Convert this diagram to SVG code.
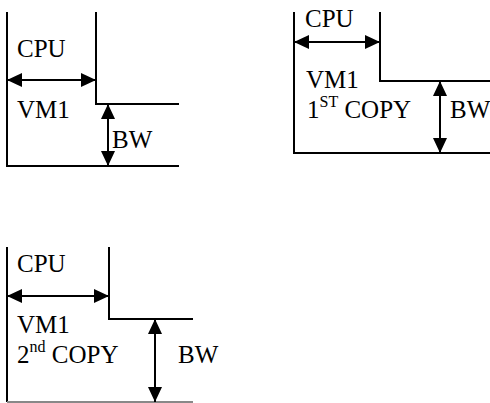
<svg xmlns="http://www.w3.org/2000/svg" width="490" height="403" viewBox="0 0 490 403">
<style>
.ln{fill:none;stroke:#000;stroke-width:2}
.ln2{fill:none;stroke:#888;stroke-width:2}
.ar{fill:none;stroke:#000;stroke-width:2;marker-start:url(#ah);marker-end:url(#ah)}
.t{font-family:'Liberation Serif','Times New Roman',serif;font-size:25px;fill:#000}
.sup{font-size:16px}
</style>
<defs>
<marker id="ah" viewBox="0 0 15 14" refX="15" refY="7" markerWidth="15" markerHeight="14" markerUnits="userSpaceOnUse" orient="auto-start-reverse">
<path d="M0,0 L15,7 L0,14 z" fill="#000"/>
</marker>
</defs>
<g id="node-diagram1">
<path class="ln" d="M7,12 V166 H179"/>
<path class="ln" d="M96,12 V104 H179"/>
<text class="t" x="17" y="57">CPU</text>
<text class="t" x="17" y="118">VM1</text>
<text class="t" x="112" y="148">BW</text>
</g>
<g id="node-diagram2">
<path class="ln" d="M294,12 V153 H490"/>
<path class="ln" d="M380,12 V81 H490"/>
<text class="t" x="305" y="27">CPU</text>
<text class="t" x="306" y="88">VM1</text>
<text class="t" x="307" y="118">1<tspan class="sup" dy="-11">ST</tspan><tspan dy="11"> COPY</tspan></text>
<text class="t" x="450" y="118">BW</text>
</g>
<g id="node-diagram3">
<path class="ln" d="M7,247 V402"/>
<path class="ln2" d="M7,402 H193"/>
<path class="ln" d="M109,247 V319 H193"/>
<text class="t" x="17" y="272">CPU</text>
<text class="t" x="17" y="333">VM1</text>
<text class="t" x="17" y="363">2<tspan class="sup" dy="-11">nd</tspan><tspan dy="11"> COPY</tspan></text>
<text class="t" x="178" y="363">BW</text>
</g>
<g id="connectors">
<line class="ar" x1="7" y1="80" x2="96" y2="80"/>
<line class="ar" x1="108" y1="104" x2="108" y2="166"/>
<line class="ar" x1="294" y1="42" x2="380" y2="42"/>
<line class="ar" x1="440" y1="81" x2="440" y2="153"/>
<line class="ar" x1="7" y1="296" x2="109" y2="296"/>
<line class="ar" x1="155" y1="319" x2="155" y2="402"/>
</g>
</svg>
